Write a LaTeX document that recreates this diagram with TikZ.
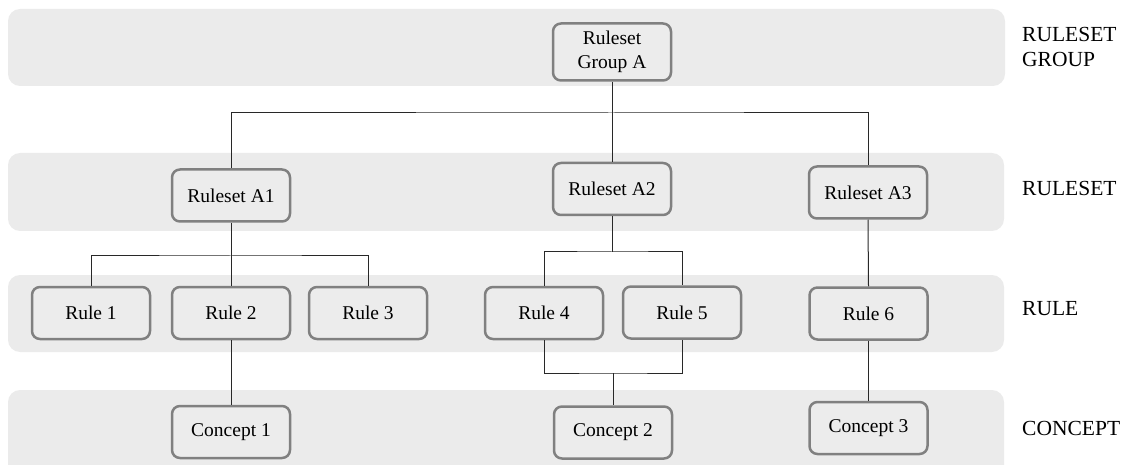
\documentclass[tikz,border=0pt]{standalone}
\usepackage{fontspec}
\setmainfont{Liberation Serif}
\begin{document}
\definecolor{bandgray}{RGB}{235,235,235}
\definecolor{boxfill}{RGB}{236,236,236}
\definecolor{boxedge}{RGB}{128,128,128}
\definecolor{wire}{RGB}{40,40,40}
\begin{tikzpicture}[x=1pt,y=-1pt,
  band/.style={fill=bandgray,draw=none,rounded corners=12pt},
  box/.style={rectangle,rounded corners=8pt,draw=boxedge,line width=2.5pt,fill=boxfill,
    minimum width=118pt,minimum height=52pt,inner sep=0pt,align=center,
    font=\fontsize{19.5}{24}\selectfont},
  level/.style={anchor=west,align=left,inner sep=0pt,font=\fontsize{21.5}{25}\selectfont},
  link/.style={draw=wire,line width=1pt}]
\useasboundingbox (0,0) rectangle (1130,465);
% level bands
\path[band] (8,9) rectangle (1005,86);
\path[band] (8,153) rectangle (1004,231);
\path[band] (8,275) rectangle (1004,352);
\path[band] (8,390) rectangle (1004,480);
% boxes
\node[box,minimum height=57pt] (grp) at (612,52) {Ruleset\\Group A};
\node[box] (a1) at (231,195.5) {Ruleset A1};
\node[box] (a2) at (612,189) {Ruleset A2};
\node[box] (a3) at (868,192.5) {Ruleset A3};
\node[box] (r1) at (91,313) {Rule 1};
\node[box] (r2) at (231,313) {Rule 2};
\node[box] (r3) at (368,313) {Rule 3};
\node[box] (r4) at (544,313) {Rule 4};
\node[box] (r5) at (682,312.5) {Rule 5};
\node[box] (r6) at (868.5,313.5) {Rule 6};
\node[box] (c1) at (231,432) {Concept 1};
\node[box] (c2) at (613,432.5) {Concept 2};
\node[box] (c3) at (868.5,428) {Concept 3};
% junction points
\coordinate (j0) at (612,113);
\coordinate (j1) at (231,256);
\coordinate (j2) at (612,252);
\coordinate (j3) at (613,373);
% connectors
\draw[link] (grp.south) -- (j0);
\draw[link] (a1.north) |- (j0) -| (a3.north);
\draw[link] (j0) -- (a2.north);
\draw[link] (a1.south) -- (j1);
\draw[link] (r1.north) |- (j1) -| (r3.north);
\draw[link] (j1) -- (r2.north);
\draw[link] (a2.south) -- (j2);
\draw[link] (r4.north) |- (j2) -| (r5.north);
\draw[link] (a3.south) -- (r6.north);
\draw[link] (r2.south) -- (c1.north);
\draw[link] (r4.south) |- (j3) -| (r5.south);
\draw[link] (j3) -- (c2.north);
\draw[link] (r6.south) -- (c3.north);
% level names
\node[level] (lg) at (1022,47) {RULESET\\GROUP};
\node[level] (ls) at (1022,188) {RULESET};
\node[level] (lr) at (1022,309) {RULE};
\node[level] (lc) at (1022,428) {CONCEPT};
\end{tikzpicture}
\end{document}
